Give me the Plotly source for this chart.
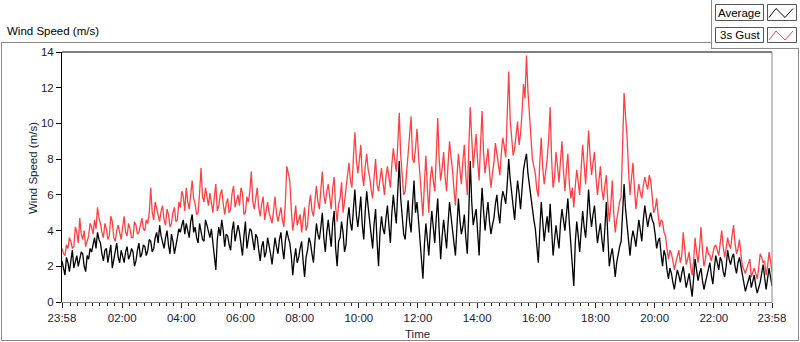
import plotly.graph_objects as go
import pandas as pd

# ---- data (3-minute samples from 23:58 to 23:58 next day) ----
average = [
    2.3, 1.9, 1.5, 2.5, 2.2, 1.7, 2.4, 2.9, 1.9, 2.2, 2.6, 2.0, 2.5, 2.8, 2.7, 2.0, 1.7, 2.6, 2.4, 3.0,
    2.8, 3.3, 3.6, 3.0, 3.9, 3.5, 3.3, 2.7, 2.3, 2.9, 3.0, 2.2, 2.6, 3.2, 1.9, 2.4, 3.0, 3.3, 2.5, 2.2,
    2.9, 2.5, 2.2, 2.8, 3.1, 2.4, 2.6, 3.0, 2.8, 2.0, 2.3, 2.9, 3.3, 2.5, 2.7, 3.2, 3.1, 2.6, 2.9, 3.5,
    3.4, 2.8, 3.0, 3.6, 3.9, 3.3, 4.3, 3.7, 3.4, 3.0, 3.6, 4.0, 3.2, 2.7, 3.8, 3.4, 2.7, 3.3, 3.6, 4.1,
    3.9, 4.3, 4.6, 3.8, 4.4, 4.0, 3.6, 4.5, 4.9, 3.9, 4.2, 3.6, 3.3, 4.4, 4.0, 3.5, 3.4, 4.6, 4.3, 3.9,
    3.6, 4.1, 3.3, 2.6, 1.8, 3.5, 4.2, 3.7, 4.6, 4.0, 3.1, 3.8, 3.7, 3.2, 2.9, 4.0, 4.5, 3.4, 3.8, 4.3,
    3.9, 3.2, 2.6, 3.7, 4.5, 3.0, 3.5, 4.1, 4.0, 3.3, 2.9, 3.8, 3.6, 2.9, 2.3, 3.1, 3.4, 2.5, 2.8, 3.6,
    3.2, 2.7, 2.1, 3.0, 3.6, 3.1, 2.7, 3.5, 3.9, 3.0, 2.4, 3.4, 4.0, 3.6, 3.3, 2.6, 1.5, 2.4, 3.0, 2.2,
    2.5, 3.0, 3.4, 2.3, 1.4, 2.5, 2.9, 3.6, 3.3, 2.7, 2.2, 3.4, 4.4, 3.8, 3.5, 4.2, 5.0, 3.6, 2.8, 3.9,
    4.6, 3.8, 3.1, 4.4, 5.1, 3.0, 2.0, 3.4, 3.6, 4.5, 3.9, 2.8, 3.2, 4.6, 5.3, 4.4, 4.0, 5.2, 6.3, 4.9,
    4.2, 5.0, 5.9, 4.3, 3.5, 5.1, 6.2, 5.3, 4.6, 3.6, 3.0, 4.4, 5.2, 3.4, 2.0, 3.9, 4.8, 4.1, 3.8, 4.7,
    5.4, 4.3, 3.3, 5.0, 6.0, 5.1, 4.4, 6.2, 7.9, 5.8, 4.9, 3.8, 3.5, 4.6, 5.7, 4.5, 3.9, 5.5, 6.8, 5.0,
    5.6, 4.6, 3.5, 2.4, 1.3, 3.2, 4.4, 3.5, 2.6, 4.0, 5.1, 4.2, 3.3, 4.7, 5.8, 4.0, 2.4, 3.7, 4.6, 3.8,
    3.0, 4.4, 5.6, 4.8, 4.2, 3.3, 2.6, 4.5, 5.8, 4.6, 3.8, 4.2, 4.9, 3.6, 2.7, 5.0, 7.9, 5.6, 4.3, 4.8,
    5.2, 3.9, 2.6, 4.8, 6.4, 5.1, 4.0, 4.9, 5.6, 4.5, 3.8, 4.3, 4.7, 5.5, 6.0, 5.0, 4.4, 5.6, 6.2, 5.9,
    5.5, 6.6, 8.0, 6.9, 6.0, 5.1, 4.6, 5.8, 6.8, 6.1, 5.2, 6.3, 7.4, 7.9, 8.3, 7.2, 6.5, 5.8, 5.3, 4.6,
    4.1, 3.1, 2.2, 4.0, 5.6, 4.5, 3.4, 4.2, 4.8, 3.9, 5.5, 4.1, 2.6, 3.5, 4.3, 3.6, 3.0, 4.4, 5.2, 4.6,
    4.0, 4.9, 5.8, 4.4, 3.2, 2.2, 0.9, 3.3, 4.5, 3.7, 2.8, 4.0, 5.1, 4.2, 3.6, 4.8, 6.3, 5.0, 4.2, 4.9,
    5.4, 4.3, 3.3, 3.9, 4.4, 3.5, 2.8, 4.1, 5.6, 3.7, 2.0, 2.6, 3.0, 2.3, 1.4, 2.2, 2.7, 3.1, 3.4, 4.8,
    6.6, 5.2, 4.3, 3.4, 2.6, 3.5, 4.0, 3.6, 3.1, 3.9, 4.6, 4.0, 3.4, 4.6, 5.4, 4.8, 4.2, 4.7, 5.0, 4.6,
    4.4, 3.8, 3.0, 3.4, 3.6, 2.7, 2.0, 2.9, 2.6, 1.8, 1.3, 1.9, 1.6, 1.1, 0.7, 1.3, 1.8, 1.5, 1.1, 1.6,
    2.0, 1.4, 0.8, 1.2, 1.6, 0.9, 0.3, 1.3, 2.4, 1.8, 1.2, 1.6, 1.9, 1.2, 0.7, 1.1, 1.5, 1.9, 2.2, 1.5,
    1.0, 1.9, 2.6, 2.2, 1.8, 2.5, 2.3, 1.7, 1.4, 2.0, 2.9, 2.4, 2.1, 2.5, 2.7, 2.0, 1.6, 2.2, 2.5, 2.0,
    1.6, 1.0, 0.6, 0.9, 1.2, 1.5, 0.8, 1.1, 1.5, 0.9, 0.5, 0.8, 1.1, 1.6, 2.1, 1.4, 0.7, 1.3, 1.9, 1.4, 0.9,
]
gust = [
    3.0, 2.7, 2.6, 3.2, 3.0, 3.6, 3.4, 3.0, 3.1, 4.2, 3.9, 3.3, 4.7, 3.8, 3.5, 4.0, 3.1, 3.5, 3.7, 4.4,
    4.2, 3.8, 4.6, 4.1, 5.3, 4.7, 4.4, 3.9, 3.6, 4.4, 4.1, 3.5, 3.7, 4.8, 4.5, 3.6, 3.4, 4.0, 4.3, 3.9,
    3.5, 4.2, 4.8, 3.9, 3.7, 4.4, 4.1, 3.6, 3.6, 4.5, 4.3, 3.8, 3.9, 4.3, 4.7, 4.1, 4.0, 4.6, 4.4, 5.0,
    6.4, 5.0, 4.6, 5.6, 5.2, 4.8, 4.5, 5.1, 5.4, 4.6, 4.3, 5.2, 4.9, 4.2, 4.4, 5.0, 5.3, 4.5, 4.6, 5.6,
    5.3, 6.2, 5.9, 5.1, 6.4, 5.6, 5.2, 6.0, 6.8, 5.8, 5.5, 4.9, 5.0, 6.1, 7.5, 5.9, 5.6, 6.4, 5.9, 5.4,
    6.1, 5.6, 5.0, 5.9, 6.6, 5.1, 5.4, 6.0, 6.3, 5.5, 4.9, 5.5, 5.8, 5.0, 5.2, 6.1, 6.5, 5.3, 5.6, 6.0,
    5.4, 6.4, 6.1, 4.9, 5.0, 5.9, 5.6, 6.2, 7.3, 5.6, 5.2, 5.9, 6.4, 5.3, 4.8, 5.5, 5.9, 4.6, 5.1, 5.6,
    5.0, 4.7, 4.4, 5.1, 5.9, 5.0, 4.5, 4.9, 5.3, 4.6, 4.2, 5.6, 7.6, 7.2, 6.8, 5.2, 4.0, 4.6, 5.4, 4.3,
    4.6, 4.9, 3.9, 4.6, 5.3, 4.0, 4.3, 5.4, 6.0, 5.1, 4.8, 5.7, 6.5, 5.6, 5.2, 6.3, 7.3, 6.0, 5.5, 6.2,
    6.6, 5.9, 5.2, 6.4, 7.0, 5.3, 4.5, 5.5, 5.8, 6.7, 5.0, 5.6, 6.3, 7.1, 7.8, 6.8, 6.4, 8.1, 9.5, 8.0,
    7.2, 7.9, 8.8, 7.1, 6.5, 7.6, 8.3, 7.4, 7.0, 6.3, 5.8, 7.0, 8.0, 6.6, 6.2, 6.9, 7.5, 6.7, 6.0, 7.0,
    7.6, 7.0, 6.4, 7.7, 8.6, 7.9, 7.3, 8.8, 10.6, 8.2, 6.8, 6.0, 6.2, 7.4, 8.5, 9.4, 10.4, 8.0, 7.8, 8.6,
    9.7, 8.2, 7.1, 5.7, 4.8, 6.6, 8.2, 6.4, 5.0, 6.9, 7.6, 6.8, 6.2, 8.1, 10.3, 8.0, 6.8, 7.5, 8.4, 7.0,
    6.2, 7.7, 9.0, 8.1, 7.4, 6.3, 5.4, 7.0, 8.3, 7.4, 6.6, 7.9, 8.8, 7.1, 6.0, 8.6, 10.9, 9.2, 7.5, 8.5,
    9.4, 7.9, 6.8, 8.9, 10.7, 8.4, 7.2, 7.9, 8.6, 7.3, 6.4, 7.2, 7.8, 8.9, 8.2, 7.6, 7.1, 8.3, 9.2, 8.7,
    8.1, 10.5, 12.9, 10.2, 9.0, 8.2, 8.6, 9.5, 10.1, 8.8, 9.4, 10.6, 12.2, 11.4, 13.8, 11.8, 10.4, 9.2, 8.0, 7.6,
    7.2, 6.3, 5.9, 7.8, 9.2, 7.5, 6.6, 7.3, 8.0, 9.1, 10.9, 8.0, 6.4, 7.0, 8.4, 7.6, 6.7, 7.9, 9.0, 7.4,
    6.2, 7.4, 8.3, 6.6, 5.8, 6.4, 5.3, 6.5, 7.4, 6.7, 6.0, 7.5, 8.8, 7.7, 6.6, 8.0, 9.6, 8.2, 7.1, 7.8,
    8.4, 7.0, 6.0, 6.8, 7.6, 6.3, 5.7, 6.5, 7.1, 5.6, 4.5, 5.4, 6.8, 5.0, 3.9, 4.6, 5.2, 5.6, 5.9, 8.6,
    11.7, 10.4, 9.3, 7.4, 6.0, 6.9, 7.8, 6.4, 5.2, 6.0, 6.6, 6.1, 5.8, 6.5, 7.0, 6.6, 6.3, 7.1, 6.8, 5.9,
    5.0, 5.2, 5.8, 4.9, 4.2, 4.6, 4.5, 3.9, 3.7, 3.0, 2.4, 2.9, 2.7, 2.3, 1.8, 2.2, 2.6, 2.9, 2.2, 2.6,
    3.9, 2.9, 2.1, 2.4, 2.8, 2.0, 1.5, 2.3, 3.6, 2.8, 2.2, 3.0, 4.2, 2.9, 2.0, 2.4, 3.1, 2.7, 2.6, 2.3,
    2.8, 3.1, 3.2, 2.9, 2.6, 3.3, 4.0, 3.1, 2.5, 3.0, 3.6, 3.2, 3.0, 3.7, 4.3, 3.3, 2.7, 3.0, 3.5, 2.7,
    2.0, 1.8, 1.6, 1.9, 2.2, 2.4, 1.4, 1.7, 1.9, 1.6, 1.3, 1.9, 2.7, 2.5, 2.2, 2.3, 1.5, 2.0, 2.8, 2.3, 1.7,
]
times = pd.date_range("2020-01-01 23:58", periods=len(average), freq="3min")

tick_times = ["2020-01-01 23:58", "2020-01-02 02:00", "2020-01-02 04:00",
              "2020-01-02 06:00", "2020-01-02 08:00", "2020-01-02 10:00",
              "2020-01-02 12:00", "2020-01-02 14:00", "2020-01-02 16:00",
              "2020-01-02 18:00", "2020-01-02 20:00", "2020-01-02 22:00",
              "2020-01-02 23:58"]
tick_labels = ["23:58", "02:00", "04:00", "06:00", "08:00", "10:00", "12:00",
               "14:00", "16:00", "18:00", "20:00", "22:00", "23:58"]
y_ticks = [0, 2, 4, 6, 8, 10, 12, 14]

FONT = "Liberation Sans, Arial, sans-serif"
TXT = "#1a1a33"

fig = go.Figure()
fig.add_trace(go.Scatter(x=times, y=gust, mode="lines", name="3s Gust",
                         line=dict(color="#ff4040", width=1.3)))
fig.add_trace(go.Scatter(x=times, y=average, mode="lines", name="Average",
                         line=dict(color="#000000", width=1.3)))

L, R, T, B = 62, 772, 52, 302


def X(px):
    return (px - L) / (R - L)


def Y(py):
    return (B - py) / (B - T)


shapes = []


def line(x0, y0, x1, y1, color, w=1):
    shapes.append(dict(type="line", xref="paper", yref="paper",
                       x0=X(x0), y0=Y(y0), x1=X(x1), y1=Y(y1),
                       line=dict(color=color, width=w), layer="above"))


def rect(x0, y0, x1, y1, color):
    shapes.append(dict(type="rect", xref="paper", yref="paper",
                       x0=X(x0), y0=Y(y0), x1=X(x1), y1=Y(y1),
                       line=dict(color=color, width=1), fillcolor="white",
                       layer="above"))


GRAY = "#8a8a8a"
# outer frame
line(1.5, 42.5, 712, 42.5, GRAY)
line(1.5, 42.5, 1.5, 340.5, GRAY)
line(1.5, 340.5, 799, 340.5, GRAY)
line(798.5, 49, 798.5, 340.5, GRAY)
line(711.5, 0, 711.5, 49, GRAY)
line(711.5, 48.5, 799, 48.5, GRAY)
# plot box top/right
line(L, T, R, T, "#000000")
line(R, T, R, B, GRAY)

# legend boxes
rect(715.5, 4.5, 763.5, 20.5, "#555555")
rect(767.5, 4.5, 796.5, 20.5, "#555555")
rect(715.5, 27.5, 763.5, 42.5, "#555555")
rect(767.5, 27.5, 796.5, 42.5, "#555555")


def zig(y0, color):
    pts = [(769, y0 + 13), (776, y0 + 4), (785, y0 + 13), (793, y0 + 4)]
    path = "M " + " L ".join(f"{X(a):.5f},{Y(b):.5f}" for a, b in pts)
    shapes.append(dict(type="path", xref="paper", yref="paper", path=path,
                       line=dict(color=color, width=1), layer="above"))


zig(4.5, "#000000")
zig(27, "#ff4040")

annotations = [
    dict(text="Wind Speed (m/s)", x=X(5), y=Y(31), xref="paper", yref="paper",
         xanchor="left", yanchor="middle", showarrow=False,
         font=dict(family=FONT, size=11.5, color="#000000")),
    dict(text="Average", x=X(739.5), y=Y(12.5), xref="paper", yref="paper",
         xanchor="center", yanchor="middle", showarrow=False,
         font=dict(family=FONT, size=11.5, color="#000000")),
    dict(text="3s Gust", x=X(739.5), y=Y(35), xref="paper", yref="paper",
         xanchor="center", yanchor="middle", showarrow=False,
         font=dict(family=FONT, size=11.5, color="#000000")),
    dict(text="Wind Speed (m/s)", x=X(33), y=Y(168), xref="paper", yref="paper",
         xanchor="center", yanchor="middle", showarrow=False, textangle=-90,
         font=dict(family=FONT, size=11.5, color=TXT)),
    dict(text="Time", x=X(417), y=Y(334), xref="paper", yref="paper",
         xanchor="center", yanchor="middle", showarrow=False,
         font=dict(family=FONT, size=11.5, color=TXT)),
]

fig.update_layout(
    width=800, height=342,
    margin=dict(l=L, r=800 - R, t=T, b=342 - B, pad=0),
    paper_bgcolor="white", plot_bgcolor="white",
    showlegend=False,
    shapes=shapes, annotations=annotations,
    font=dict(family=FONT, size=11, color=TXT),
)
fig.update_xaxes(
    type="date", range=[tick_times[0], tick_times[-1]],
    tickmode="array", tickvals=tick_times, ticktext=tick_labels,
    ticks="outside", ticklen=5, tickcolor="#222222",
    showgrid=False, zeroline=False,
    showline=True, linecolor=GRAY, linewidth=1,
    tickfont=dict(family=FONT, size=11.5, color=TXT),
    minor=dict(ticks="outside", ticklen=3, tickcolor="#222222",
               dtick=15 * 60 * 1000, tick0="2020-01-02 00:00", showgrid=False),
)
fig.update_yaxes(
    range=[0, 14], tickmode="array", tickvals=y_ticks,
    ticks="outside", ticklen=5, tickcolor="#000000",
    showgrid=False, zeroline=False,
    showline=True, linecolor="#000000", linewidth=1,
    tickfont=dict(family=FONT, size=11.5, color=TXT),
)

fig.write_html("out.html", config={"displayModeBar": False},
               post_script="document.body.style.margin='0';")
